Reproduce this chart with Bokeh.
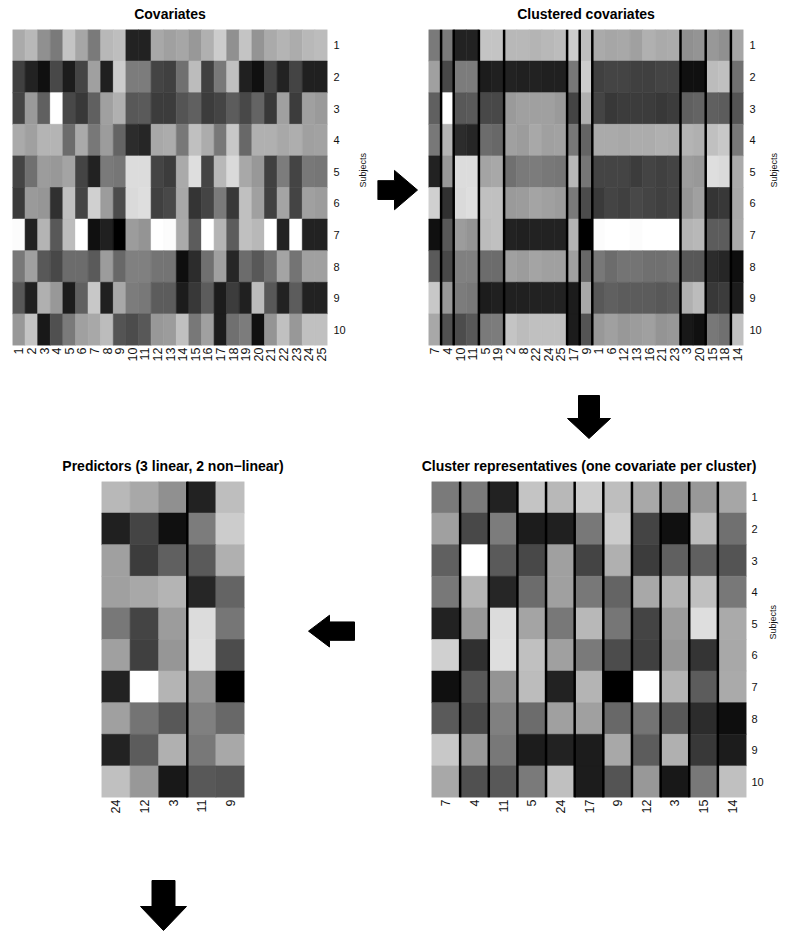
import math
from itertools import accumulate

from bokeh.plotting import figure
from bokeh.models import ColumnDataSource, LinearColorMapper, FactorRange, Range1d
from bokeh.layouts import column, row
from bokeh.embed import file_html
from bokeh.resources import INLINE

# ---------------- data ----------------
covariates = [str(i) for i in range(1, 26)]
subjects = [str(i) for i in range(1, 11)]

# grey level of each cell (0 = black, 255 = white), covariates 1..25
subject_1 = [170, 184, 144, 122, 196, 166, 122, 184, 190, 34, 34, 168, 160, 166, 152, 176, 204, 144, 196, 148, 170, 180, 172, 184, 188]
subject_2 = [64, 34, 16, 72, 28, 68, 160, 32, 204, 124, 124, 68, 64, 112, 188, 64, 120, 192, 32, 16, 68, 34, 68, 32, 32]
subject_3 = [68, 154, 96, 255, 72, 56, 96, 160, 176, 88, 90, 60, 60, 84, 96, 60, 68, 92, 72, 100, 56, 160, 60, 160, 154]
subject_4 = [170, 160, 180, 180, 108, 170, 120, 156, 100, 44, 38, 168, 172, 120, 192, 172, 120, 200, 104, 176, 176, 168, 174, 160, 162]
subject_5 = [68, 112, 156, 152, 164, 68, 34, 122, 118, 220, 220, 68, 60, 170, 222, 68, 184, 218, 168, 152, 64, 124, 68, 120, 118]
subject_6 = [58, 154, 150, 48, 192, 68, 208, 156, 76, 218, 222, 64, 72, 168, 52, 68, 122, 56, 192, 160, 64, 164, 68, 160, 156]
subject_7 = [252, 34, 180, 88, 188, 255, 16, 32, 0, 156, 148, 255, 252, 170, 92, 255, 180, 92, 192, 184, 255, 34, 255, 34, 34]
subject_8 = [120, 160, 88, 72, 108, 108, 90, 156, 104, 128, 128, 116, 116, 14, 44, 112, 160, 38, 108, 88, 112, 164, 116, 160, 160]
subject_9 = [88, 32, 176, 152, 28, 96, 200, 32, 168, 124, 120, 92, 92, 28, 56, 92, 28, 60, 32, 188, 88, 34, 92, 34, 34]
subject_10 = [152, 196, 24, 80, 122, 160, 168, 188, 84, 76, 88, 152, 156, 192, 120, 160, 28, 112, 124, 16, 148, 192, 152, 192, 192]
subject_rows = [subject_1, subject_2, subject_3, subject_4, subject_5,
                subject_6, subject_7, subject_8, subject_9, subject_10]

clustered_order = ["7", "4", "10", "11", "5", "19", "2", "8", "22", "24", "25", "17", "9",
                   "1", "6", "12", "13", "16", "21", "23", "3", "20", "15", "18", "14"]
cluster_sizes = [1, 1, 2, 2, 5, 1, 1, 7, 2, 2, 1]
representatives = ["7", "4", "11", "5", "24", "17", "9", "12", "3", "15", "14"]
predictors = ["24", "12", "3", "11", "9"]
predictor_groups = [3, 2]   # linear, non-linear

# ---------------- style ----------------
FONT = "Liberation Sans"
LABEL_COLOR = "#111111"
gray_palette = ["#%02x%02x%02x" % (i, i, i) for i in range(256)]
mapper = LinearColorMapper(palette=gray_palette, low=0, high=255)


def cell_source(columns):
    xs, ys, vs = [], [], []
    for s, vals in zip(subjects, subject_rows):
        for c in columns:
            xs.append(c)
            ys.append(s)
            vs.append(vals[covariates.index(c)])
    return ColumnDataSource(dict(cov=xs, subj=ys, val=vs))


def style_right_label(ax, size, standoff):
    ax.axis_label = "Subjects"
    ax.axis_label_text_font = FONT
    ax.axis_label_text_font_size = size
    ax.axis_label_text_font_style = "normal"
    ax.axis_label_text_color = LABEL_COLOR
    ax.axis_label_standoff = standoff
    try:
        ax.axis_label_orientation = math.pi / 2
    except Exception:
        pass


def heatmap(columns, title, width, height, left, right, top, bottom,
            groups=None, right_axis=True, lab_standoff=6, axlab_standoff=10):
    p = figure(width=width, height=height,
               x_range=FactorRange(factors=columns),
               y_range=FactorRange(factors=subjects[::-1]),
               x_axis_location="below",
               y_axis_location="right" if right_axis else None,
               toolbar_location=None, tools="", output_backend="svg",
               min_border_left=left, min_border_right=right,
               min_border_top=top, min_border_bottom=bottom)
    p.rect(x="cov", y="subj", width=1, height=1, source=cell_source(columns),
           fill_color={"field": "val", "transform": mapper},
           line_color={"field": "val", "transform": mapper}, line_width=0.6)
    if groups:
        edges = list(accumulate(groups))[:-1]
        p.segment(x0=edges, y0=[0] * len(edges), x1=edges, y1=[len(subjects)] * len(edges),
                  line_color="black", line_width=2.5)
    p.grid.visible = False
    p.outline_line_color = None
    p.background_fill_color = "white"
    p.border_fill_color = "white"

    p.title.text = title
    p.title.align = "center"
    p.title.vertical_align = "top"
    p.title.text_font = FONT
    p.title.text_font_size = "14px"
    p.title.text_font_style = "bold"
    p.title.text_color = "black"
    p.title.standoff = 11

    for ax in p.axis:
        ax.axis_line_color = None
        ax.major_tick_line_color = None
        ax.minor_tick_line_color = None
        ax.major_tick_out = 0
        ax.major_tick_in = 0
        ax.major_label_text_font = FONT
        ax.major_label_text_color = LABEL_COLOR
    p.xaxis.major_label_text_font_size = "12.5px"
    p.xaxis.major_label_orientation = math.pi / 2
    p.xaxis.major_label_standoff = 2
    if right_axis:
        ya = p.yaxis[0]
        ya.major_label_text_font_size = "11px"
        ya.major_label_standoff = lab_standoff
        style_right_label(ya, "9px", axlab_standoff)
    return p


def arrow_figure(width, height, tip, direction, shaft_w, head_w, shaft_len, head_len):
    tx, ty = tip
    if direction == "right":
        xs = [tx, tx - head_len, tx - head_len, tx - head_len - shaft_len,
              tx - head_len - shaft_len, tx - head_len, tx - head_len]
        ys = [ty, ty - head_w / 2, ty - shaft_w / 2, ty - shaft_w / 2,
              ty + shaft_w / 2, ty + shaft_w / 2, ty + head_w / 2]
    elif direction == "left":
        xs = [tx, tx + head_len, tx + head_len, tx + head_len + shaft_len,
              tx + head_len + shaft_len, tx + head_len, tx + head_len]
        ys = [ty, ty - head_w / 2, ty - shaft_w / 2, ty - shaft_w / 2,
              ty + shaft_w / 2, ty + shaft_w / 2, ty + head_w / 2]
    else:  # down
        ys = [ty, ty - head_len, ty - head_len, ty - head_len - shaft_len,
              ty - head_len - shaft_len, ty - head_len, ty - head_len]
        xs = [tx, tx - head_w / 2, tx - shaft_w / 2, tx - shaft_w / 2,
              tx + shaft_w / 2, tx + shaft_w / 2, tx + head_w / 2]
    p = figure(width=width, height=height, x_range=Range1d(0, width), y_range=Range1d(height, 0),
               x_axis_location=None, y_axis_location=None, title=None,
               toolbar_location=None, tools="", output_backend="svg",
               min_border=0)
    p.patch(xs, ys, fill_color="black", line_color="black", line_width=1)
    p.grid.visible = False
    p.outline_line_color = None
    p.background_fill_color = "white"
    p.border_fill_color = "white"
    return p


# ---------------- panels ----------------
fig_cov = heatmap(covariates, "Covariates", 377, 370, 12, 50, 29, 25,
                  lab_standoff=6, axlab_standoff=14)
arrow_r = arrow_figure(43, 370, tip=(40, 188), direction="right",
                       shaft_w=22, head_w=46, shaft_len=17, head_len=23)
fig_clu = heatmap(clustered_order, "Clustered covariates", 368, 370, 8, 45, 29, 25,
                  groups=cluster_sizes, lab_standoff=6, axlab_standoff=9)

arrow_d1 = arrow_figure(788, 82, tip=(588.5, 68), direction="down",
                        shaft_w=21, head_w=43, shaft_len=23, head_len=20)

fig_pred = heatmap(predictors, "Predictors (3 linear, 2 non\u2212linear)", 300, 378, 101, 56, 29, 33,
                   groups=predictor_groups, right_axis=False)
arrow_l = arrow_figure(60, 378, tip=(8, 179), direction="left",
                       shaft_w=22, head_w=38, shaft_len=25, head_len=21)
fig_rep = heatmap(representatives, "Cluster representatives (one covariate per cluster)", 428, 378,
                  71, 42, 29, 33, groups=[1] * len(representatives),
                  lab_standoff=5, axlab_standoff=6)

arrow_d2 = arrow_figure(788, 102, tip=(163, 100), direction="down",
                        shaft_w=23, head_w=46, shaft_len=26, head_len=24)

layout = column(row(fig_cov, arrow_r, fig_clu),
                arrow_d1,
                row(fig_pred, arrow_l, fig_rep),
                arrow_d2)

open("out.html", "w").write(file_html(layout, INLINE))
